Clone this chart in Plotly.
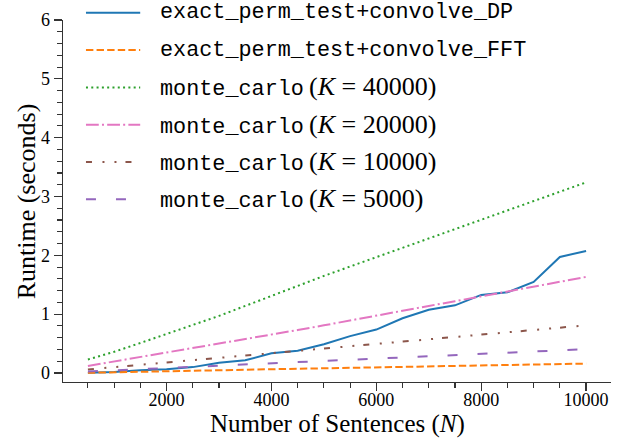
import plotly.graph_objects as go

# ---------------- data ----------------
N = [500, 1000, 1500, 2000, 2500, 3000, 3500, 4000, 4500, 5000,
     5500, 6000, 6500, 7000, 7500, 8000, 8500, 9000, 9500, 10000]

exact_dp = [0.005, 0.018, 0.045, 0.062, 0.100, 0.175, 0.216, 0.335, 0.380, 0.490,
            0.627, 0.738, 0.930, 1.075, 1.150, 1.327, 1.372, 1.548, 1.973, 2.075]
exact_fft = [0.003, 0.010, 0.020, 0.028, 0.037, 0.046, 0.055, 0.064, 0.072, 0.080,
             0.088, 0.096, 0.104, 0.111, 0.118, 0.125, 0.133, 0.140, 0.150, 0.160]
mc_40000 = [0.23, 0.36, 0.51, 0.66, 0.81, 0.97, 1.14, 1.31, 1.49, 1.65,
            1.81, 1.97, 2.12, 2.28, 2.44, 2.60, 2.76, 2.92, 3.08, 3.24]
mc_20000 = [0.120, 0.195, 0.270, 0.345, 0.420, 0.500, 0.575, 0.650, 0.730, 0.810,
            0.895, 0.980, 1.060, 1.140, 1.220, 1.300, 1.385, 1.465, 1.550, 1.633]
mc_10000 = [0.06, 0.10, 0.14, 0.18, 0.22, 0.26, 0.30, 0.33, 0.37, 0.41,
            0.45, 0.49, 0.53, 0.57, 0.61, 0.65, 0.69, 0.73, 0.77, 0.81]
mc_5000 = [0.025, 0.045, 0.065, 0.085, 0.105, 0.125, 0.145, 0.165, 0.185, 0.205,
           0.225, 0.245, 0.265, 0.285, 0.305, 0.325, 0.345, 0.365, 0.385, 0.405]

method_names = ["exact_perm_test+convolve_DP", "exact_perm_test+convolve_FFT",
                "monte_carlo", "monte_carlo", "monte_carlo", "monte_carlo"]
k_labels = [None, None, "40000", "20000", "10000", "5000"]
series = [exact_dp, exact_fft, mc_40000, mc_20000, mc_10000, mc_5000]

x_ticks = [2000, 4000, 6000, 8000, 10000]
y_ticks = [0, 1, 2, 3, 4, 5, 6]
x_title = "Number of Sentences (<i>N</i>)"
y_title = "Runtime (seconds)"

# ---------------- styles ----------------
colors = ["#1f77b4", "#ff7f0e", "#2ca02c", "#e377c2", "#8c564b", "#9467bd"]
dashes = ["solid", "7.4px,3.2px", "2px,3.3px", "12.8px,3.2px,2px,3.2px",
          "6px,10.5px,2px,10px,2px,9px", "10px,20px"]
LW = 2

SERIF = "Liberation Serif"
MONO = "Liberation Mono"
AX = "#333333"

W, H = 619, 438
ML, MR, MT, MB = 62.7, 7.6, 19.9, 56.0
PW, PH = W - ML - MR, H - MT - MB


def px_x(x):
    return (x - ML) / PW


def px_y(y):
    return (H - MB - y) / PH


fig = go.Figure()
for ys, c, d, name in zip(series, colors, dashes, method_names):
    fig.add_trace(go.Scatter(x=N, y=ys, mode="lines", name=name, showlegend=False,
                             hoverinfo="skip",
                             line=dict(color=c, width=LW, dash=d)))

# ---------------- legend (drawn manually, matplotlib-like) ----------------
row_y = [12.7, 50.0, 87.3, 124.7, 162.0, 199.3]
shapes = []
annotations = []
for i, (name, k) in enumerate(zip(method_names, k_labels)):
    yy = px_y(row_y[i])
    shapes.append(dict(type="line", xref="paper", yref="paper",
                       x0=px_x(85.7), x1=px_x(140.0), y0=yy, y1=yy,
                       line=dict(color=colors[i], width=LW, dash=dashes[i])))
    txt = '<span style="font-family:%s;font-size:21.8px">%s</span>' % (MONO, name)
    if k is not None:
        txt += '\u2009(<i>K</i> = %s)' % k
    annotations.append(dict(text=txt, xref="paper", yref="paper",
                            x=px_x(157.5), y=yy, xanchor="left", yanchor="middle",
                            showarrow=False, font=dict(family=SERIF, size=26, color="black")))

# axis titles
annotations.append(dict(text=x_title, xref="paper", yref="paper", x=0.5, y=px_y(424.5),
                        xanchor="center", yanchor="middle", showarrow=False,
                        font=dict(family=SERIF, size=25, color="black")))
annotations.append(dict(text=y_title, xref="paper", yref="paper", x=px_x(26), y=0.5,
                        xanchor="center", yanchor="middle", textangle=-90, showarrow=False,
                        font=dict(family=SERIF, size=26, color="black")))

common = dict(showline=True, linecolor=AX, linewidth=1.3, mirror=False,
              ticks="outside", tickcolor=AX, tickwidth=1.3, ticklen=8,
              showgrid=False, zeroline=False, automargin=False,
              tickfont=dict(family=SERIF, size=18, color="black"))

fig.update_layout(
    template="none",
    width=W, height=H,
    margin=dict(l=ML, r=MR, t=MT, b=MB, pad=0),
    paper_bgcolor="white", plot_bgcolor="white",
    shapes=shapes, annotations=annotations,
    xaxis=dict(range=[25, 10475], tickmode="array", tickvals=x_ticks,
               ticktext=[str(v) for v in x_ticks], ticklabelstandoff=-7,
               minor=dict(tickmode="linear", tick0=0, dtick=500, ticks="outside",
                          ticklen=4.5, tickwidth=1.1, tickcolor=AX, showgrid=False),
               **common),
    yaxis=dict(range=[-0.153, 6], tickmode="array", tickvals=y_ticks,
               ticktext=[str(v) for v in y_ticks],
               minor=dict(tickmode="linear", tick0=0, dtick=0.2, ticks="outside",
                          ticklen=4.5, tickwidth=1.1, tickcolor=AX, showgrid=False),
               **common),
)

fig.write_html("out.html", config={"displayModeBar": False, "staticPlot": True},
               post_script="document.body.style.margin='0';document.body.style.overflow='hidden';")
